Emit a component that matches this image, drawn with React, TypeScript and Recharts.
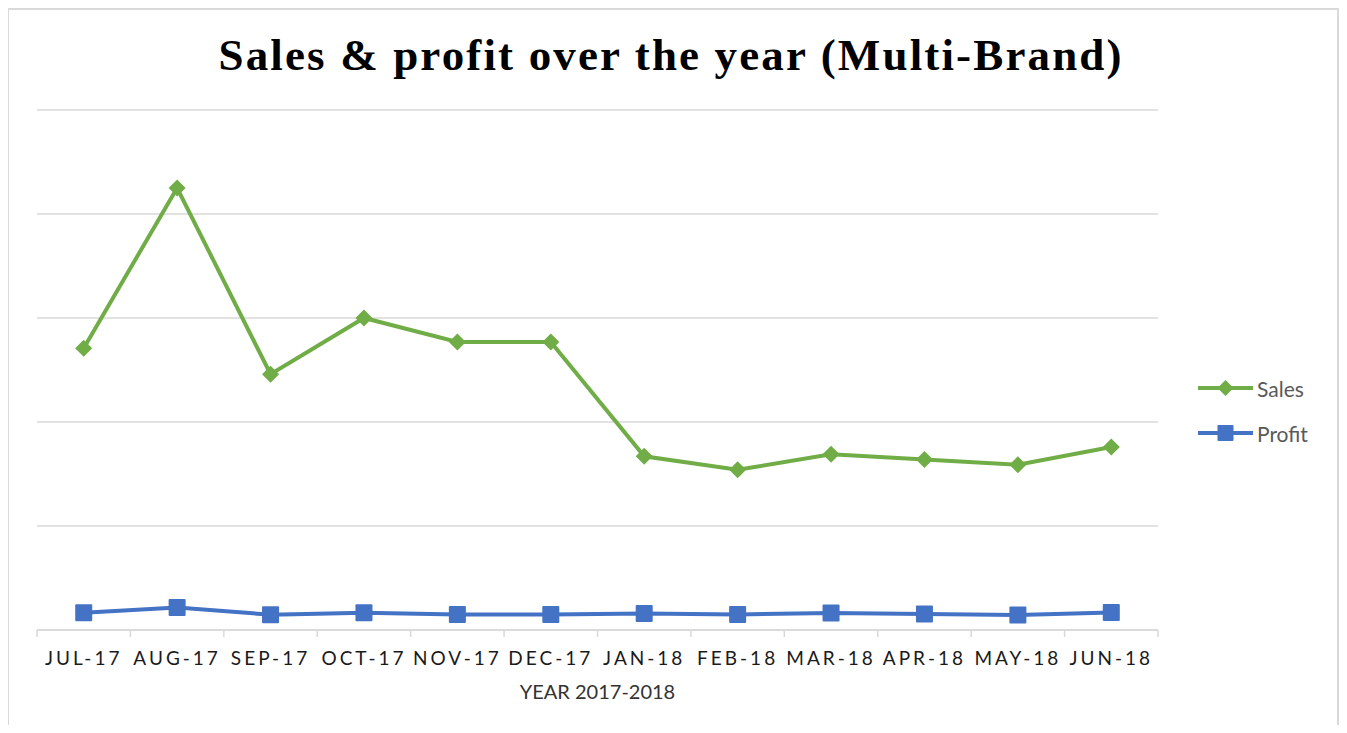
import { LineChart, Line, XAxis, YAxis, CartesianGrid, Legend } from "recharts";

const months = ["JUL-17", "AUG-17", "SEP-17", "OCT-17", "NOV-17", "DEC-17", "JAN-18", "FEB-18", "MAR-18", "APR-18", "MAY-18", "JUN-18"];
const sales = [27.1, 42.5, 24.6, 30.0, 27.7, 27.7, 16.7, 15.4, 16.9, 16.4, 15.9, 17.6];
const profit = [1.66, 2.16, 1.47, 1.65, 1.49, 1.49, 1.59, 1.49, 1.63, 1.54, 1.44, 1.68];
const yTicks = [0, 10, 20, 30, 40, 50];

const GREEN = "#70AD47";
const BLUE = "#4472C4";
const GRID = "#d9d9d9";
const FONT = "Lato, 'Open Sans', sans-serif";

const W = 1331;
const H = 717;
const HALF_BAND = 1121 / 12 / 2;

const data = months.map((m, i) => ({ month: m, sales: sales[i], profit: profit[i] }));

function Diamond({ cx, cy, r = 8.5, fill }: any) {
  return <path d={`M${cx},${cy - r}L${cx + r},${cy}L${cx},${cy + r}L${cx - r},${cy}Z`} fill={fill} />;
}

function Square({ cx, cy, s = 17, fill }: any) {
  return <rect x={cx - s / 2} y={cy - s / 2} width={s} height={s} rx={1} fill={fill} />;
}

function MonthTick(props: any) {
  const { x, y, payload, index, visibleTicksCount } = props;
  const last = index === visibleTicksCount - 1;
  return (
    <g>
      <line x1={x - HALF_BAND} x2={x - HALF_BAND} y1={y} y2={y + 7} stroke={GRID} strokeWidth={1.5} />
      {last && <line x1={x + HALF_BAND} x2={x + HALF_BAND} y1={y} y2={y + 7} stroke={GRID} strokeWidth={1.5} />}
      <text x={x} y={y + 35} textAnchor="middle" fontFamily={FONT} fontSize={19} letterSpacing={3} fill="#1a1a1a">
        {payload.value}
      </text>
    </g>
  );
}

function LegendBox() {
  const rows = [
    { name: "Sales", color: GREEN, shape: "diamond" },
    { name: "Profit", color: BLUE, shape: "square" },
  ];
  return (
    <div>
      {rows.map((r, i) => (
        <div key={r.name} style={{ display: "flex", alignItems: "center", height: 24, marginTop: i ? 21 : 0 }}>
          <svg width={59} height={24}>
            <line x1={0} x2={55} y1={12} y2={12} stroke={r.color} strokeWidth={4} />
            {r.shape === "diamond" ? (
              <Diamond cx={27.5} cy={12} r={8} fill={r.color} />
            ) : (
              <Square cx={27.5} cy={12} s={16} fill={r.color} />
            )}
          </svg>
          <span style={{ fontFamily: FONT, fontSize: 21, color: "#595959" }}>{r.name}</span>
        </div>
      ))}
    </div>
  );
}

export default function App() {
  return (
    <div style={{ position: "relative", width: W, height: H }}>
      <div
        style={{
          position: "absolute",
          left: -1,
          top: 0,
          width: W + 1,
          height: H + 8,
          boxSizing: "border-box",
          borderTop: `2px solid ${GRID}`,
          borderLeft: `2px solid ${GRID}`,
          borderRight: `2px solid ${GRID}`,
          pointerEvents: "none",
        }}
      />
      <svg style={{ position: "absolute", left: 0, top: 0 }} width={W} height={90}>
        <text
          x={662}
          y={62}
          textAnchor="middle"
          fontFamily="'Liberation Serif', 'Times New Roman', serif"
          fontWeight="bold"
          fontSize={45}
          textLength={903}
          lengthAdjust="spacing"
          fill="#000"
        >
          Sales &amp; profit over the year (Multi-Brand)
        </text>
      </svg>
      <div style={{ position: "absolute", left: 0, top: 0 }}>
        <LineChart width={W} height={H} data={data} margin={{ top: 102, right: 181, bottom: 26, left: 29 }}>
          <CartesianGrid vertical={false} stroke={GRID} strokeWidth={1.4} />
          <XAxis
            dataKey="month"
            interval={0}
            padding={{ left: HALF_BAND, right: HALF_BAND }}
            height={69}
            tickSize={0}
            tickMargin={0}
            tickLine={false}
            axisLine={{ stroke: GRID, strokeWidth: 1.5 }}
            tick={<MonthTick />}
            label={{ value: "YEAR 2017-2018", position: "insideBottom", offset: 0, fill: "#333", fontSize: 20, fontFamily: FONT }}
          />
          <YAxis hide domain={[0, 50]} ticks={yTicks} />
          <Legend
            layout="horizontal"
            align="center"
            verticalAlign="middle"
            content={<LegendBox />}
            wrapperStyle={{ left: 1190, top: 368, width: 140, height: "auto" }}
          />
          <Line
            dataKey="sales"
            name="Sales"
            type="linear"
            stroke={GREEN}
            strokeWidth={4}
            dot={(p: any) => <Diamond key={`s-${p.index}`} cx={p.cx} cy={p.cy} fill={GREEN} />}
            activeDot={false}
            isAnimationActive={false}
          />
          <Line
            dataKey="profit"
            name="Profit"
            type="linear"
            stroke={BLUE}
            strokeWidth={4}
            dot={(p: any) => <Square key={`p-${p.index}`} cx={p.cx} cy={p.cy} fill={BLUE} />}
            activeDot={false}
            isAnimationActive={false}
          />
        </LineChart>
      </div>
    </div>
  );
}
